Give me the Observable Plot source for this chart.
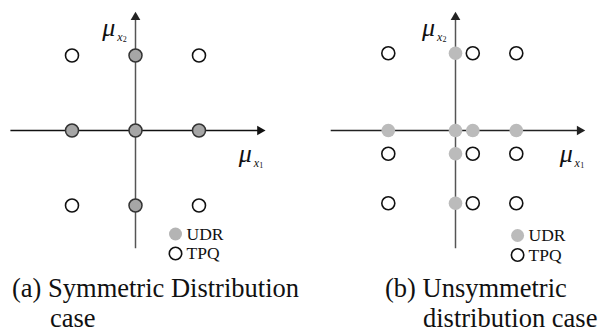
<!DOCTYPE html>
<html><head><meta charset="utf-8">
<script src="https://cdn.jsdelivr.net/npm/d3@7"></script>
<script src="https://cdn.jsdelivr.net/npm/@observablehq/plot@0.6"></script>
<style>
body{margin:0;background:#fff;}
#wrap{display:flex;width:600px;height:332px;overflow:hidden;}
.panel{width:300px;height:332px;flex:0 0 300px;}
.panel svg{display:block;}
.cap{font-family:"Liberation Serif","Times New Roman",serif;font-size:26.5px;color:#111;line-height:30px;white-space:nowrap;}
</style></head>
<body><div id="wrap"><div class="panel" id="pa"></div><div class="panel" id="pb"></div></div>
<script>
// Panel (a): symmetric case
const udrA_x = [0, -1, 0, 1, 0];
const udrA_y = [1, 0, 0, 0, -1];
const tpqA_x = [-1, 1, -1, 1];
const tpqA_y = [1, 1, -1, -1];
// Panel (b): unsymmetric case
const udrB_x = [0, -1.05, 0, 0.27, 0.95, 0, 0];
const udrB_y = [1.03, 0, 0, 0, 0, -0.31, -0.97];
const tpqB_cols = [-1.05, 0.27, 0.95];
const tpqB_rows = [1.03, -0.31, -0.97];
const legendLabels = ["UDR", "TPQ"];
const captions = ["(a) Symmetric Distribution", "case", "(b) Unsymmetric", "distribution case"];

const zip = (xs, ys) => xs.map((x, i) => ({x, y: ys[i]}));
const udrA = zip(udrA_x, udrA_y);
const tpqA = zip(tpqA_x, tpqA_y);
const udrB = zip(udrB_x, udrB_y);
const tpqB = tpqB_rows.flatMap(y => tpqB_cols.map(x => ({x, y})));

const serif = "'Liberation Serif','Times New Roman',serif";

function axesMarks(xMin, xMax, yMin, yMax, lx2, lx1, hColor, vColor) {
  return [
    Plot.link([{x1: xMin, x2: xMax - 0.05, y1: 0, y2: 0}], {x1: "x1", x2: "x2", y1: "y1", y2: "y2", stroke: hColor, strokeWidth: 1.3}),
    Plot.dot([{x: xMax - 0.04, y: 0}], {x: "x", y: "y", symbol: "triangle", r: 3.6, fill: hColor, rotate: 90}),
    Plot.link([{x: 0, y1: yMin, y2: yMax - 0.06}], {x1: "x", x2: "x", y1: "y1", y2: "y2", stroke: vColor, strokeWidth: 1.5}),
    Plot.dot([{x: 0, y: yMax - 0.05}], {x: "x", y: "y", symbol: "triangle", r: 3.6, fill: "#222"}),
    // mu_x2 label
    Plot.text([{x: lx2[0], y: lx2[1]}], {x: "x", y: "y", text: () => "μ", fontFamily: serif, fontStyle: "italic", fontSize: 26, fill: "#111"}),
    Plot.text([{x: lx2[0], y: lx2[1]}], {x: "x", y: "y", text: () => "x", dx: 11, dy: 9, fontFamily: serif, fontStyle: "italic", fontSize: 12, fill: "#111"}),
    Plot.text([{x: lx2[0], y: lx2[1]}], {x: "x", y: "y", text: () => "2", dx: 16, dy: 12, fontFamily: serif, fontSize: 8, fill: "#111"}),
    // mu_x1 label
    Plot.text([{x: lx1[0], y: lx1[1]}], {x: "x", y: "y", text: () => "μ", fontFamily: serif, fontStyle: "italic", fontSize: 26, fill: "#111"}),
    Plot.text([{x: lx1[0], y: lx1[1]}], {x: "x", y: "y", text: () => "x", dx: 11, dy: 9, fontFamily: serif, fontStyle: "italic", fontSize: 12, fill: "#111"}),
    Plot.text([{x: lx1[0], y: lx1[1]}], {x: "x", y: "y", text: () => "1", dx: 16, dy: 12, fontFamily: serif, fontSize: 8, fill: "#111"})
  ];
}

function legendMarks(lx, ly, udrFill) {
  const rows = legendLabels.map((t, i) => ({t, x: lx, y: ly - i * 0.26, i}));
  return [
    Plot.dot(rows.filter(d => d.i === 0), {x: "x", y: "y", r: 6.5, fill: udrFill}),
    Plot.dot(rows.filter(d => d.i === 1), {x: "x", y: "y", r: 6.2, fill: "white", stroke: "#111", strokeWidth: 1.6}),
    Plot.text(rows, {x: "x", y: "y", text: "t", dx: 11, textAnchor: "start", fontFamily: serif, fontSize: 17.5, fill: "#111"})
  ];
}

const common = {width: 300, height: 262, marginTop: 10, marginBottom: 12,
  y: {domain: [-1.6, 1.6], axis: null}, style: {background: "white", overflow: "visible"}};

const plotA = Plot.plot({
  ...common, marginLeft: 8, marginRight: 38,
  x: {domain: [-2, 2], axis: null},
  marks: [
    ...axesMarks(-1.97, 2.0, -1.57, 1.56, [-0.42, 1.37], [1.73, -0.31], "#111", "#555"),
    Plot.dot(udrA, {x: "x", y: "y", r: 6.5, fill: "#a6a6a6", stroke: "#333", strokeWidth: 1.5}),
    Plot.dot(tpqA, {x: "x", y: "y", r: 6.5, fill: "white", stroke: "#111", strokeWidth: 1.6}),
    ...legendMarks(0.63, -1.38, "#b4b4b4")
  ]
});

const plotB = Plot.plot({
  ...common, marginLeft: 27, marginRight: 17,
  x: {domain: [-2, 2], axis: null},
  marks: [
    ...axesMarks(-1.95, 1.98, -1.57, 1.56, [-0.42, 1.37], [1.73, -0.31], "#222", "#555"),
    Plot.dot(udrB, {x: "x", y: "y", r: 6.8, fill: "#bbbbbb"}),
    Plot.dot(tpqB, {x: "x", y: "y", r: 6.5, fill: "white", stroke: "#111", strokeWidth: 1.6}),
    ...legendMarks(0.97, -1.4, "#bbbbbb")
  ]
});

function cap(parent, text, left, top) {
  const d = document.createElement("div");
  d.className = "cap"; d.textContent = text;
  d.style.marginLeft = left + "px"; d.style.marginTop = top + "px";
  document.getElementById(parent).appendChild(d);
}
document.getElementById("pa").appendChild(plotA);
document.getElementById("pb").appendChild(plotB);
cap("pa", captions[0], 12, 11);
cap("pa", captions[1], 50, 0);
cap("pb", captions[2], 85, 11);
cap("pb", captions[3], 123, 0);
</script></body></html>
